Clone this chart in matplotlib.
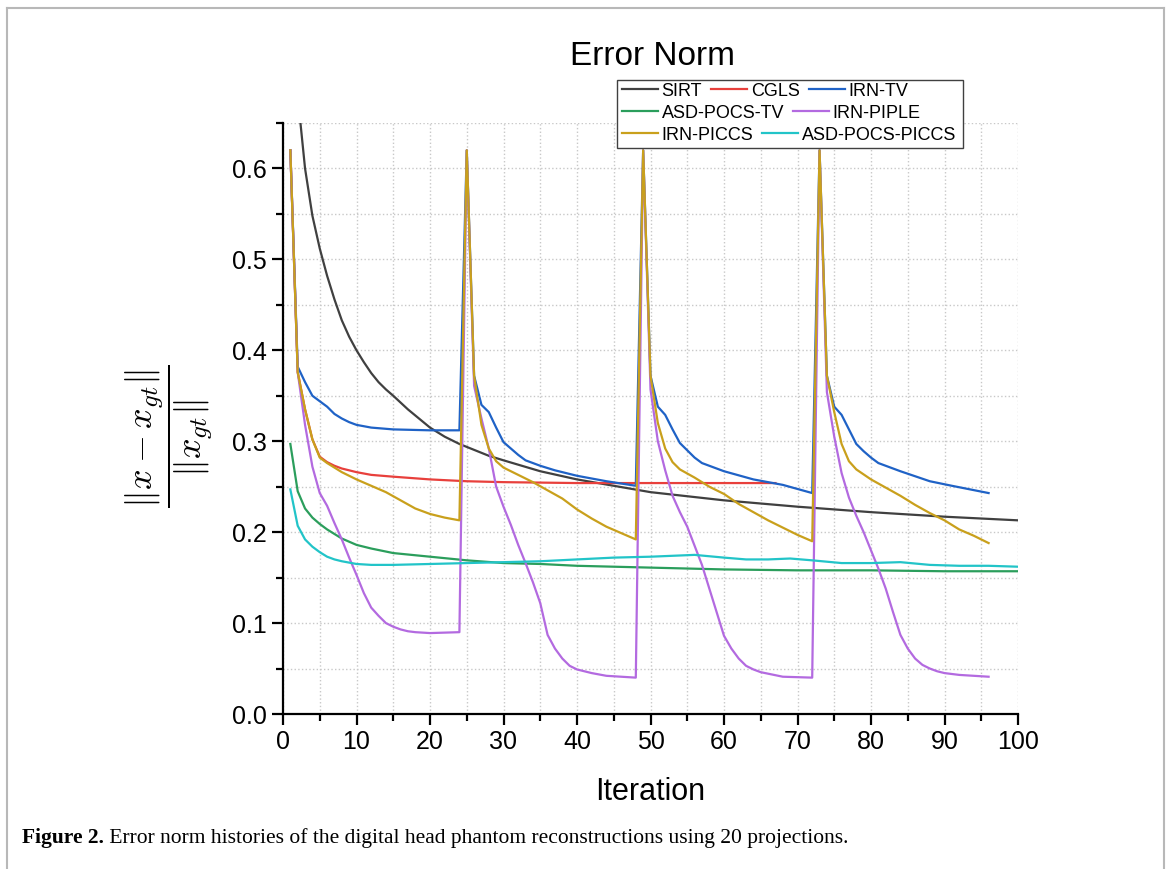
import matplotlib
matplotlib.use("Agg")
import matplotlib.pyplot as plt
from matplotlib.lines import Line2D
from matplotlib.patches import Rectangle

plt.rcParams["font.family"] = ["Liberation Sans", "DejaVu Sans"]
plt.rcParams["mathtext.fontset"] = "cm"

# donnees (iteration, erreur relative)
sirt_it = [1, 2, 3, 4, 5, 6, 7, 8, 9, 10, 11, 12, 13, 14, 15, 17, 20, 22, 24, 28, 30, 35, 40,
           50, 60, 70, 80, 90, 100]
sirt_err = [0.95, 0.68, 0.60, 0.548, 0.512, 0.482, 0.456, 0.433, 0.415, 0.400, 0.387, 0.375,
            0.365, 0.357, 0.350, 0.335, 0.315, 0.305, 0.297, 0.284, 0.279, 0.267, 0.258,
            0.244, 0.235, 0.228, 0.222, 0.217, 0.213]

cgls_it = [1, 2, 3, 4, 5, 6, 7, 8, 10, 12, 15, 20, 25, 30, 40, 50, 60, 67]
cgls_err = [0.62, 0.376, 0.335, 0.302, 0.283, 0.277, 0.273, 0.270, 0.266, 0.263, 0.261,
            0.258, 0.256, 0.255, 0.254, 0.254, 0.254, 0.254]

irntv_it = [1, 2, 3, 4, 5, 6, 7, 8, 9, 10, 12, 15, 20, 24,
            25, 26, 27, 28, 29, 30, 31, 32, 33, 35, 37, 40, 44, 48,
            49, 50, 51, 52, 53, 54, 55, 56, 57, 60, 64, 68, 72,
            73, 74, 75, 76, 77, 78, 79, 80, 81, 84, 88, 91, 96]
irntv_err = [0.62, 0.382, 0.365, 0.350, 0.344, 0.338, 0.330, 0.325, 0.321, 0.318, 0.315, 0.313, 0.312, 0.312,
             0.62, 0.372, 0.340, 0.332, 0.315, 0.299, 0.292, 0.285, 0.279, 0.273, 0.268, 0.262, 0.256, 0.251,
             0.62, 0.372, 0.338, 0.329, 0.313, 0.298, 0.290, 0.282, 0.276, 0.267, 0.258, 0.252, 0.243,
             0.62, 0.372, 0.338, 0.329, 0.313, 0.297, 0.289, 0.282, 0.276, 0.267, 0.256, 0.251, 0.243]

asdtv_it = [1, 2, 3, 4, 5, 6, 8, 10, 12, 15, 20, 25, 30, 35, 40, 50, 60, 70, 80, 90, 100]
asdtv_err = [0.297, 0.245, 0.226, 0.216, 0.209, 0.203, 0.193, 0.186, 0.182, 0.177, 0.173,
             0.169, 0.166, 0.165, 0.163, 0.161, 0.159, 0.158, 0.158, 0.157, 0.157]

piple_it = [1, 2, 3, 4, 5, 6, 7, 8, 9, 10, 11, 12, 13, 14, 15, 16, 17, 18, 20, 24,
            25, 26, 27, 28, 29, 30, 31, 32, 33, 34, 35, 36, 37, 38, 39, 40, 42, 44, 48,
            49, 50, 51, 52, 53, 54, 55, 56, 57, 58, 59, 60, 61, 62, 63, 64, 65, 68, 72,
            73, 74, 75, 76, 77, 78, 79, 80, 81, 82, 83, 84, 85, 86, 87, 88, 89, 90, 92, 96]
piple_err = [0.62, 0.376, 0.318, 0.272, 0.243, 0.229, 0.210, 0.192, 0.172, 0.153, 0.133, 0.117,
             0.108, 0.100, 0.096, 0.093, 0.091, 0.090, 0.089, 0.090,
             0.62, 0.361, 0.325, 0.292, 0.250, 0.228, 0.208, 0.186, 0.166, 0.145, 0.122, 0.087,
             0.072, 0.061, 0.053, 0.049, 0.045, 0.042, 0.040,
             0.62, 0.357, 0.300, 0.268, 0.240, 0.222, 0.206, 0.185, 0.164, 0.138, 0.112, 0.086,
             0.072, 0.061, 0.053, 0.049, 0.046, 0.041, 0.040,
             0.62, 0.354, 0.305, 0.265, 0.238, 0.218, 0.200, 0.180, 0.160, 0.138, 0.112, 0.087,
             0.072, 0.061, 0.054, 0.050, 0.047, 0.045, 0.043, 0.041]

piccs_it = [1, 2, 3, 4, 5, 6, 7, 8, 10, 12, 14, 16, 18, 20, 22, 24,
            25, 26, 27, 28, 29, 30, 32, 34, 36, 38, 40, 42, 44, 46, 48,
            49, 50, 51, 52, 53, 54, 56, 58, 60, 62, 64, 66, 68, 70, 72,
            73, 74, 75, 76, 77, 78, 80, 82, 84, 86, 88, 90, 92, 94, 96]
piccs_err = [0.62, 0.376, 0.335, 0.302, 0.282, 0.276, 0.271, 0.266, 0.258, 0.251, 0.244, 0.235,
             0.226, 0.220, 0.216, 0.213,
             0.62, 0.372, 0.318, 0.292, 0.278, 0.271, 0.263, 0.255, 0.246, 0.237, 0.225, 0.215,
             0.206, 0.199, 0.192,
             0.62, 0.372, 0.320, 0.292, 0.277, 0.269, 0.260, 0.250, 0.242, 0.231, 0.222, 0.213,
             0.205, 0.197, 0.190,
             0.62, 0.372, 0.332, 0.297, 0.278, 0.269, 0.258, 0.249, 0.240, 0.230, 0.221, 0.213,
             0.203, 0.196, 0.188]

asdpiccs_it = [1, 2, 3, 4, 5, 6, 7, 8, 10, 12, 15, 20, 25, 30, 35, 40, 45, 50, 56, 60, 63,
               66, 69, 72, 76, 80, 84, 88, 92, 96, 100]
asdpiccs_err = [0.247, 0.207, 0.192, 0.184, 0.178, 0.173, 0.170, 0.168, 0.165, 0.164, 0.164,
                0.165, 0.166, 0.167, 0.168, 0.170, 0.172, 0.173, 0.175, 0.172, 0.170, 0.170,
                0.171, 0.169, 0.166, 0.166, 0.167, 0.164, 0.163, 0.163, 0.162]

series = [
    ("SIRT", sirt_it, sirt_err, "#404040"),
    ("CGLS", cgls_it, cgls_err, "#e8403c"),
    ("IRN-TV", irntv_it, irntv_err, "#1f62c6"),
    ("ASD-POCS-TV", asdtv_it, asdtv_err, "#2b9e5c"),
    ("IRN-PIPLE", piple_it, piple_err, "#b36ae0"),
    ("IRN-PICCS", piccs_it, piccs_err, "#c9a01c"),
    ("ASD-POCS-PICCS", asdpiccs_it, asdpiccs_err, "#22c4c8"),
]

fig = plt.figure(figsize=(11.7, 8.69), dpi=100)
ax = fig.add_axes([283 / 1170, 155 / 869, 735 / 1170, 591 / 869])

handles = {}
for nom, it, err, coul in series:
    (ln,) = ax.plot(it, err, color=coul, lw=1.6, label=nom)
    handles[nom] = ln

ax.set_xlim(0, 100)
ax.set_ylim(0, 0.65)
ax.set_xticks(range(0, 101, 10))
ax.set_xticks(range(5, 100, 10), minor=True)
ax.set_yticks([0.0, 0.1, 0.2, 0.3, 0.4, 0.5, 0.6])
ax.set_yticks([0.05, 0.15, 0.25, 0.35, 0.45, 0.55, 0.65], minor=True)
ax.yaxis.set_major_formatter(matplotlib.ticker.FormatStrFormatter("%.1f"))
ax.tick_params(which="major", length=8, width=1.6, labelsize=18, direction="out")
ax.tick_params(which="minor", length=5, width=1.6, direction="out")
ax.grid(which="both", color="#c8c8c8", linestyle=":", linewidth=1.0)
ax.set_axisbelow(True)
for s in ["top", "right"]:
    ax.spines[s].set_visible(False)
for s in ["left", "bottom"]:
    ax.spines[s].set_linewidth(1.6)

ax.set_xlabel("Iteration", fontsize=22)
ax.xaxis.set_label_coords(0.5, -0.107)
ax.set_ylabel(r"$\dfrac{\Vert x - x_{gt} \Vert}{\Vert x_{gt} \Vert}$", fontsize=26)
ax.yaxis.set_label_coords(-0.092, 0.47)

fig.text(653 / 1170, 1 - 65 / 869, "Error Norm", fontsize=24, ha="center", va="baseline")

# legende sur 3 lignes comme dans l'original
lignes = [["SIRT", "CGLS", "IRN-TV"], ["ASD-POCS-TV", "IRN-PIPLE"], ["IRN-PICCS", "ASD-POCS-PICCS"]]
for i, ligne in enumerate(lignes):
    fig.legend([handles[n] for n in ligne], ligne, ncol=len(ligne), loc="upper left",
               bbox_to_anchor=(620 / 1170, 1 - (81 + i * 22) / 869), frameon=False,
               fontsize=13, handlelength=2.0, handletextpad=0.2, columnspacing=0.5,
               borderpad=0.1, borderaxespad=0)
fig.patches.append(Rectangle((617 / 1170, 1 - 148 / 869), 346 / 1170, 68 / 869,
                             transform=fig.transFigure, fill=True, facecolor="white",
                             edgecolor="#404040", lw=1.0, zorder=0))

# cadre de la page
gris = "#b8b8b8"
fig.add_artist(Line2D([7 / 1170, 1164 / 1170], [1 - 8 / 869, 1 - 8 / 869], color=gris, lw=1.5))
fig.add_artist(Line2D([7 / 1170, 7 / 1170], [0, 1 - 8 / 869], color=gris, lw=1.5))
fig.add_artist(Line2D([1164 / 1170, 1164 / 1170], [0, 1 - 8 / 869], color=gris, lw=1.5))

t1 = fig.text(22 / 1170, 1 - 848 / 869, "Figure 2.", fontsize=15.5, fontweight="bold",
              family="Liberation Serif", va="bottom")
ax.annotate(" Error norm histories of the digital head phantom reconstructions using 20 projections.",
            xy=(1, 0), xycoords=t1, fontsize=15.5, family="Liberation Serif",
            va="bottom", ha="left", annotation_clip=False)

fig.savefig("out.png", dpi=100)
